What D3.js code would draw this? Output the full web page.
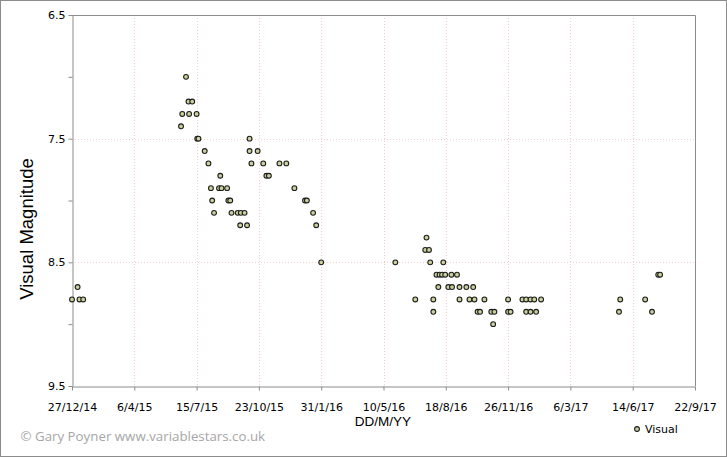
<!DOCTYPE html>
<html>
<head>
<meta charset="utf-8">
<script src="https://cdn.jsdelivr.net/npm/d3@7"></script>
<style>
  html, body { margin: 0; padding: 0; background: #fff; }
  svg { display: block; }
</style>
</head>
<body>
<div id="chart"></div>
<script>
// observation dates (UTC) and visual magnitudes
const obsDates = [
    "2014-12-27", "2015-01-05", "2015-01-08", "2015-01-14",
    "2015-06-20", "2015-06-22", "2015-06-28", "2015-07-02", "2015-07-03", "2015-07-08",
    "2015-07-15", "2015-07-16", "2015-07-18", "2015-07-28", "2015-08-03", "2015-08-07",
    "2015-08-09", "2015-08-12", "2015-08-20", "2015-08-22", "2015-08-24", "2015-09-02",
    "2015-09-04", "2015-09-07", "2015-09-09", "2015-09-19", "2015-09-23", "2015-09-24",
    "2015-09-30", "2015-10-04", "2015-10-08", "2015-10-08", "2015-10-11", "2015-10-21",
    "2015-10-30", "2015-11-04", "2015-11-08", "2015-11-25", "2015-12-06", "2015-12-19",
    "2016-01-05", "2016-01-08", "2016-01-18", "2016-01-23", "2016-01-31",
    "2016-05-29", "2016-06-30", "2016-07-16", "2016-07-18", "2016-07-22", "2016-07-24",
    "2016-07-29", "2016-07-29", "2016-08-03", "2016-08-06", "2016-08-08", "2016-08-12",
    "2016-08-14", "2016-08-17", "2016-08-22", "2016-08-27", "2016-08-28", "2016-09-05",
    "2016-09-09", "2016-09-09", "2016-09-20", "2016-09-25", "2016-10-01", "2016-10-03",
    "2016-10-08", "2016-10-12", "2016-10-19", "2016-10-30", "2016-11-02", "2016-11-04",
    "2016-11-26", "2016-11-26", "2016-11-30", "2016-12-19", "2016-12-25", "2016-12-25",
    "2017-01-01", "2017-01-01", "2017-01-07", "2017-01-10", "2017-01-18",
    "2017-05-23", "2017-05-25", "2017-07-04", "2017-07-15", "2017-07-25", "2017-07-28"
];
const obsMags = [
    8.8, 8.7, 8.8, 8.8,
    7.4, 7.3, 7.0, 7.2, 7.3, 7.2,
    7.3, 7.5, 7.5, 7.6, 7.7, 7.9,
    8.0, 8.1, 7.9, 7.8, 7.9, 7.9,
    8.0, 8.0, 8.1, 8.1, 8.2, 8.1,
    8.1, 8.2, 7.5, 7.6, 7.7, 7.6,
    7.7, 7.8, 7.8, 7.7, 7.7, 7.9,
    8.0, 8.0, 8.1, 8.2, 8.5,
    8.5, 8.8, 8.4, 8.3, 8.4, 8.5,
    8.8, 8.9, 8.6, 8.7, 8.6, 8.6,
    8.5, 8.6, 8.7, 8.6, 8.7, 8.6,
    8.7, 8.8, 8.7, 8.8, 8.7, 8.8,
    8.9, 8.9, 8.8, 8.9, 9.0, 8.9,
    8.8, 8.9, 8.9, 8.8, 8.8, 8.9,
    8.8, 8.9, 8.8, 8.9, 8.8,
    8.9, 8.8, 8.8, 8.9, 8.6, 8.6
];

// axis ticks
const xTickLabels = ["27/12/14", "6/4/15", "15/7/15", "23/10/15", "31/1/16", "10/5/16",
                     "18/8/16", "26/11/16", "6/3/17", "14/6/17", "22/9/17"];
const yTicks = [6.5, 7.0, 7.5, 8.0, 8.5, 9.0, 9.5];
const yTickLabels = [6.5, 7.5, 8.5, 9.5];

const W = 727, H = 457;
const plot = { left: 72, right: 695, top: 15, bottom: 386 };

const parseIso = d3.utcParse("%Y-%m-%d");
const parseTick = d3.utcParse("%d/%m/%y");
const tickDates = xTickLabels.map(parseTick);

const points = obsDates.map((d, i) => ({ date: parseIso(d), mag: obsMags[i] }));

const x = d3.scaleUtc()
    .domain([tickDates[0], tickDates[tickDates.length - 1]])
    .range([plot.left, plot.right]);

const y = d3.scaleLinear()
    .domain([6.5, 9.5])
    .range([plot.top, plot.bottom]);

const svg = d3.select("#chart").append("svg")
    .attr("width", W)
    .attr("height", H);

// outer frame
svg.append("rect")
    .attr("x", 0.5).attr("y", 0.5)
    .attr("width", W - 1).attr("height", H - 1)
    .attr("fill", "#fff")
    .attr("stroke", "#8c8c8c");

// grid lines
const grid = svg.append("g")
    .attr("stroke", "#f7cdd2")
    .attr("stroke-dasharray", "1,2");

grid.selectAll("line.vg")
    .data(tickDates.slice(1, -1))
    .enter().append("line")
    .attr("x1", d => Math.round(x(d)) + 0.5)
    .attr("x2", d => Math.round(x(d)) + 0.5)
    .attr("y1", plot.top)
    .attr("y2", plot.bottom);

grid.selectAll("line.hg")
    .data(yTickLabels.slice(1, -1))
    .enter().append("line")
    .attr("x1", plot.left)
    .attr("x2", plot.right)
    .attr("y1", d => Math.round(y(d)) + 0.5)
    .attr("y2", d => Math.round(y(d)) + 0.5);

// plot border (top and right)
svg.append("path")
    .attr("d", `M${plot.left},${plot.top + 0.5}H${plot.right + 0.5}V${plot.bottom}`)
    .attr("fill", "none")
    .attr("stroke", "#8c8c8c");

// axes
const xAxis = d3.axisBottom(x)
    .tickValues(tickDates)
    .tickSize(4)
    .tickSizeOuter(0)
    .tickFormat((d, i) => xTickLabels[i]);

const yAxis = d3.axisLeft(y)
    .tickValues(yTicks)
    .tickSize(4)
    .tickSizeOuter(0)
    .tickFormat(d => yTickLabels.includes(d) ? d3.format(".1f")(d) : "");

const gx = svg.append("g")
    .attr("transform", `translate(0,${plot.bottom + 0.5})`)
    .call(xAxis);

const gy = svg.append("g")
    .attr("transform", `translate(${plot.left + 0.5},0)`)
    .call(yAxis);

[gx, gy].forEach(g => {
    g.select(".domain").attr("stroke", "#8c8c8c");
    g.selectAll(".tick line").attr("stroke", "#8c8c8c");
    g.selectAll(".tick text")
        .attr("fill", "#000")
        .style("font-family", "'DejaVu Sans', Verdana, sans-serif")
        .style("font-size", "11px");
});
gx.selectAll(".tick text").attr("dy", "1.55em");
gy.selectAll(".tick text").attr("x", -7);

// observations
svg.append("g")
    .selectAll("circle")
    .data(points)
    .enter().append("circle")
    .attr("cx", d => x(d.date))
    .attr("cy", d => y(d.mag))
    .attr("r", 2.4)
    .attr("fill", "#c9d19c")
    .attr("stroke", "#1c1c1c")
    .attr("stroke-width", 1.1);

// titles
svg.append("text")
    .attr("transform", "translate(32.5,229) rotate(-90)")
    .attr("text-anchor", "middle")
    .style("font-family", "'Liberation Sans', Arial, sans-serif")
    .style("font-size", "18.5px")
    .attr("fill", "#000")
    .text("Visual Magnitude");

svg.append("text")
    .attr("x", 383)
    .attr("y", 426)
    .attr("text-anchor", "middle")
    .style("font-family", "'Liberation Sans', Arial, sans-serif")
    .style("font-size", "13.5px")
    .attr("fill", "#000")
    .text("DD/M/YY");

svg.append("text")
    .attr("x", 20.5)
    .attr("y", 440.5)
    .style("font-family", "'Open Sans', 'Noto Sans', sans-serif")
    .style("font-size", "13.3px")
    .attr("fill", "#a6a6a6")
    .text("© Gary Poyner  www.variablestars.co.uk");

// legend
const legend = svg.append("g").attr("transform", "translate(637,429)");
legend.append("circle")
    .attr("r", 2.4)
    .attr("fill", "#c9d19c")
    .attr("stroke", "#1c1c1c")
    .attr("stroke-width", 1.1);
legend.append("text")
    .attr("x", 8)
    .attr("y", 4)
    .style("font-family", "'DejaVu Sans', Verdana, sans-serif")
    .style("font-size", "11px")
    .attr("fill", "#000")
    .text("Visual");
</script>
</body>
</html>
